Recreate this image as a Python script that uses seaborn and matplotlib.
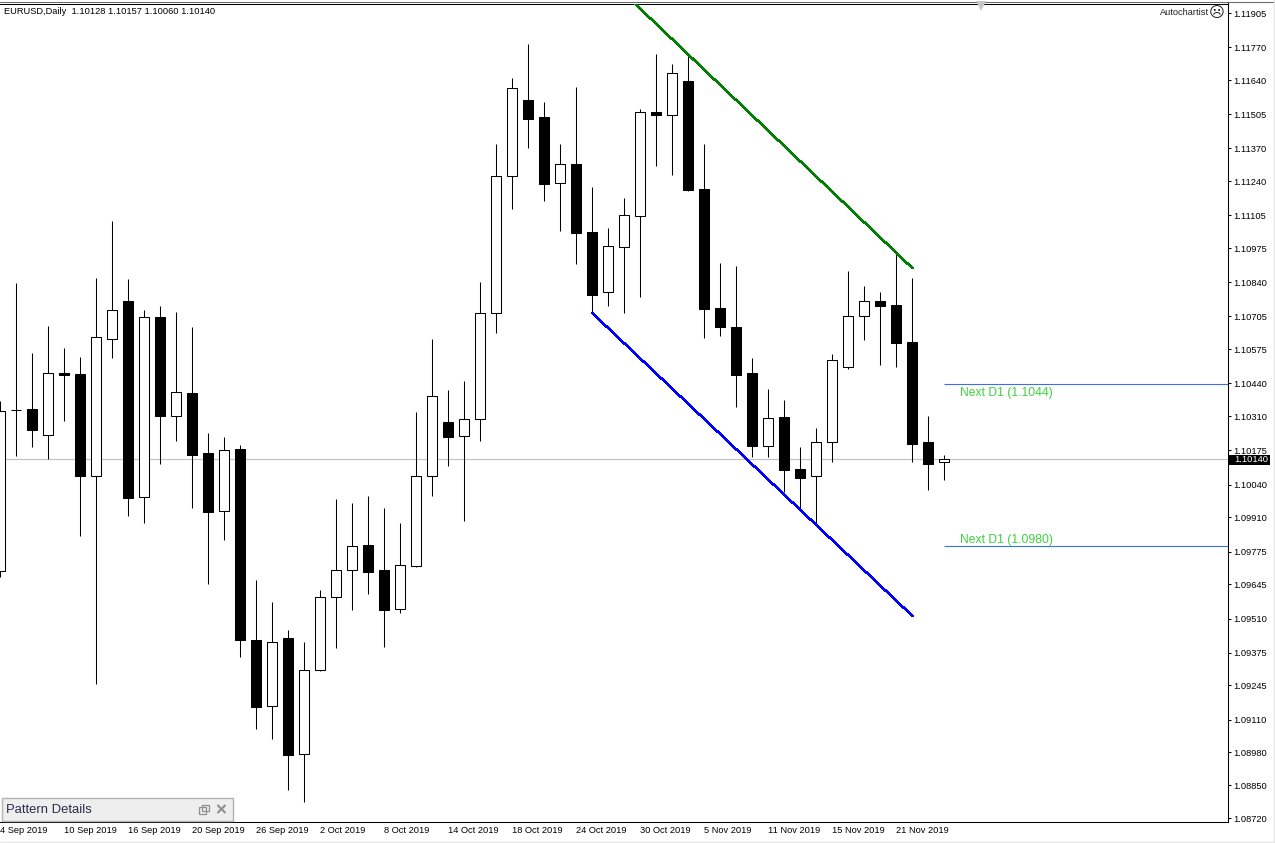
import matplotlib
matplotlib.use("Agg")
import matplotlib.pyplot as plt
import matplotlib.transforms as mtransforms
from matplotlib.lines import Line2D
from matplotlib.patches import Rectangle
import numpy as np
import pandas as pd
import seaborn as sns

symbol_title = "EURUSD,Daily  1.10128 1.10157 1.10060 1.10140"

# daily candles, 4 Sep 2019 onwards
opens = [
    1.09697, 1.10334, 1.10339, 1.10235, 1.10481, 1.10477, 1.10075, 1.10617, 1.10766, 1.09992,
    1.10703, 1.10312, 1.10402, 1.10165, 1.09934, 1.10181, 1.09425, 1.09163, 1.09433, 1.08973,
    1.09305, 1.09594, 1.09701, 1.09801, 1.09702, 1.09547, 1.09719, 1.10073, 1.10288, 1.10231,
    1.10298, 1.10718, 1.11260, 1.11562, 1.11494, 1.11234, 1.11308, 1.11039, 1.10803, 1.10981,
    1.11104, 1.11514, 1.11503, 1.11637, 1.11209, 1.10739, 1.10663, 1.10481, 1.10191, 1.10307,
    1.10102, 1.10073, 1.10207, 1.10504, 1.10706, 1.10766, 1.10750, 1.10604, 1.10208, 1.10128,
]
highs = [
    1.10371, 1.10836, 1.10561, 1.10667, 1.10580, 1.10545, 1.10858, 1.11083, 1.10854, 1.10731,
    1.10746, 1.10723, 1.10663, 1.10244, 1.10228, 1.10197, 1.09662, 1.09575, 1.09465, 1.09417,
    1.09623, 1.09983, 1.09967, 1.09995, 1.09947, 1.09888, 1.10327, 1.10616, 1.10414, 1.10450,
    1.10841, 1.11387, 1.11649, 1.11783, 1.11554, 1.11387, 1.11613, 1.11217, 1.11055, 1.11174,
    1.11526, 1.11744, 1.11704, 1.11740, 1.11387, 1.10917, 1.10905, 1.10541, 1.10418, 1.10375,
    1.10189, 1.10264, 1.10557, 1.10885, 1.10826, 1.10802, 1.10952, 1.10857, 1.10311, 1.10157,
]
lows = [
    1.09674, 1.10154, 1.10190, 1.10142, 1.10293, 1.09838, 1.09252, 1.10542, 1.09917, 1.09889,
    1.10123, 1.10214, 1.09948, 1.09648, 1.09822, 1.09359, 1.09074, 1.09035, 1.08833, 1.08785,
    1.09302, 1.09395, 1.09545, 1.09608, 1.09399, 1.09533, 1.09715, 1.09996, 1.10115, 1.09897,
    1.10214, 1.10638, 1.11131, 1.11373, 1.11163, 1.11044, 1.10914, 1.10718, 1.10748, 1.10720,
    1.10783, 1.11302, 1.11266, 1.11201, 1.10621, 1.10629, 1.10348, 1.10149, 1.10149, 1.10011,
    1.09939, 1.09880, 1.10131, 1.10498, 1.10613, 1.10514, 1.10506, 1.10131, 1.10020, 1.10060,
]
closes = [
    1.10332, 1.10334, 1.10257, 1.10480, 1.10473, 1.10075, 1.10623, 1.10729, 1.09988, 1.10702,
    1.10312, 1.10405, 1.10158, 1.09933, 1.10176, 1.09426, 1.09161, 1.09416, 1.08971, 1.09305,
    1.09594, 1.09701, 1.09796, 1.09695, 1.09545, 1.09721, 1.10073, 1.10389, 1.10229, 1.10298,
    1.10718, 1.11260, 1.11608, 1.11488, 1.11230, 1.11307, 1.11037, 1.10791, 1.10983, 1.11105,
    1.11513, 1.11502, 1.11667, 1.11205, 1.10735, 1.10663, 1.10475, 1.10194, 1.10302, 1.10099,
    1.10066, 1.10207, 1.10532, 1.10706, 1.10765, 1.10746, 1.10600, 1.10202, 1.10123, 1.10140,
]

date_labels = [
    "4 Sep 2019", "10 Sep 2019", "16 Sep 2019", "20 Sep 2019", "26 Sep 2019",
    "2 Oct 2019", "8 Oct 2019", "14 Oct 2019", "18 Oct 2019", "24 Oct 2019",
    "30 Oct 2019", "5 Nov 2019", "11 Nov 2019", "15 Nov 2019", "21 Nov 2019",
]
price_ticks = [
    1.11905, 1.11770, 1.11640, 1.11505, 1.11370, 1.11240, 1.11105, 1.10975, 1.10840,
    1.10705, 1.10575, 1.10440, 1.10310, 1.10175, 1.10040, 1.09910, 1.09775, 1.09645,
    1.09510, 1.09375, 1.09245, 1.09110, 1.08980, 1.08850, 1.08720,
]

# channel lines, candle index / price
upper_x = [39.7, 57.0]
upper_y = [1.11940, 1.10896]
lower_x = [37.0, 57.0]
lower_y = [1.10718, 1.09520]

last_price = 1.10140
next_levels = [1.10437, 1.09797]
next_labels = ["Next D1 (1.1044)", "Next D1 (1.0980)"]

W, H = 1275, 843
BASE_FONT = "Liberation Sans"
TICK_SIZE = 6.7

sns.set_theme(style="white")
plt.rcParams["font.family"] = [BASE_FONT, "DejaVu Sans"]

df = pd.DataFrame({"open": opens, "high": highs, "low": lows, "close": closes})
df["idx"] = np.arange(len(df))
df["up"] = df["close"] >= df["open"]
df["body_low"] = df[["open", "close"]].min(axis=1)
df["body_h"] = (df["open"] - df["close"]).abs()

fig = plt.figure(figsize=(W / 100, H / 100), dpi=100, facecolor="white")
ax = fig.add_axes([0, (H - 821.5) / H, 1227.5 / W, 818 / H])
ax.set_facecolor("white")
ax.set_xlim(-0.03125, 76.69)
ax.set_ylim(1.087069, 1.119434)

# current price line sits behind the candles
ax.axhline(last_price, color="#c0c0c0", lw=0.8, zorder=1)

ax.vlines(df["idx"], df["low"], df["high"], color="black", lw=0.75, zorder=2)
colors = ["white" if u else "black" for u in df["up"]]
ax.bar(df["idx"], df["body_h"], width=0.625, bottom=df["body_low"],
       color=colors, edgecolor="black", linewidth=0.75, zorder=3)

sns.lineplot(x=upper_x, y=upper_y, color="#008000", lw=1.05, ax=ax, zorder=4, antialiased=False)
sns.lineplot(x=lower_x, y=lower_y, color="#0000ff", lw=1.05, ax=ax, zorder=4, antialiased=False)

ax.hlines(next_levels, 59, 76.69, color="#3c6ee6", lw=0.8, zorder=2)
for level, label, off in zip(next_levels, next_labels, [-6.5, 4.3]):
    ax.annotate(label, (60, level), xytext=(0, off), textcoords="offset points",
                va="center", ha="left", fontsize=8.75, color="#3cd43c")

ax.yaxis.tick_right()
ax.set_yticks(price_ticks, [f"{p:.5f}" for p in price_ticks])
ax.set_xticks(np.arange(0, 60, 4), date_labels)
ax.tick_params(axis="y", length=2.2, width=0.75, pad=2.2, labelsize=TICK_SIZE, colors="black")
ax.tick_params(axis="x", length=2.4, width=0.75, pad=1.0, labelsize=TICK_SIZE, colors="black")
for t in ax.get_xticklabels():
    t.set_ha("left")
ax.set_xlabel("")
ax.set_ylabel("")
for side in ["top", "right", "bottom"]:
    ax.spines[side].set_color("black")
    ax.spines[side].set_linewidth(0.75)
ax.spines["left"].set_visible(False)

# window chrome, placed in pixels from the top left
px = mtransforms.Affine2D().scale(1, -1).translate(0, H)


def chrome_rect(x, y, w, h, **kw):
    fig.add_artist(Rectangle((x, y), w, h, transform=px, **kw))


def chrome_line(xs, ys, color, lw=0.75, zorder=2):
    fig.add_artist(Line2D(xs, ys, transform=px, color=color, lw=lw, zorder=zorder))


chrome_line([0, W], [1.5, 1.5], "#696969")
chrome_line([0, W], [842, 842], "#e4e4e4", 1.0)
chrome_line([1274, 1274], [0, H], "#e4e4e4", 1.0)

fig.text(4, 11.5, symbol_title, transform=px, fontsize=TICK_SIZE, va="center", ha="left", color="black")
fig.text(1209, 12.5, "Autochartist", transform=px, fontsize=TICK_SIZE, va="center", ha="right", color="#202020")
fig.text(1217, 13, "\u2639", transform=px, fontsize=11, va="center", ha="center",
         color="#202020", family="DejaVu Sans")
fig.add_artist(Line2D([981], [6], transform=px, marker="v", ms=6.5, mew=0, color="#c8c8c8", ls="none", zorder=5))

# last price tag on the axis
chrome_rect(1228.5, 455, 41.5, 10, facecolor="black", edgecolor="none", zorder=6)
fig.text(1234, 460, f"{last_price:.5f}", transform=px, fontsize=TICK_SIZE, va="center", ha="left",
         color="white", zorder=7)

# pattern details panel
chrome_rect(1.5, 797.5, 231.5, 23, facecolor="#eeeeee", edgecolor="#b4b4b4", lw=1.0, zorder=6)
fig.text(6, 810, "Pattern Details", transform=px, fontsize=9.4, va="center", ha="left",
         color="#2b2b4b", zorder=7)
chrome_rect(198.5, 807, 7, 6.5, facecolor="none", edgecolor="#909090", lw=0.9, zorder=7)
chrome_rect(201.5, 804.5, 7, 6, facecolor="#eeeeee", edgecolor="#909090", lw=0.9, zorder=6.5)
chrome_line([218, 225], [805.5, 812.5], "#909090", 1.5, zorder=7)
chrome_line([218, 225], [812.5, 805.5], "#909090", 1.5, zorder=7)

fig.savefig("out.png", dpi=100, facecolor="white")
